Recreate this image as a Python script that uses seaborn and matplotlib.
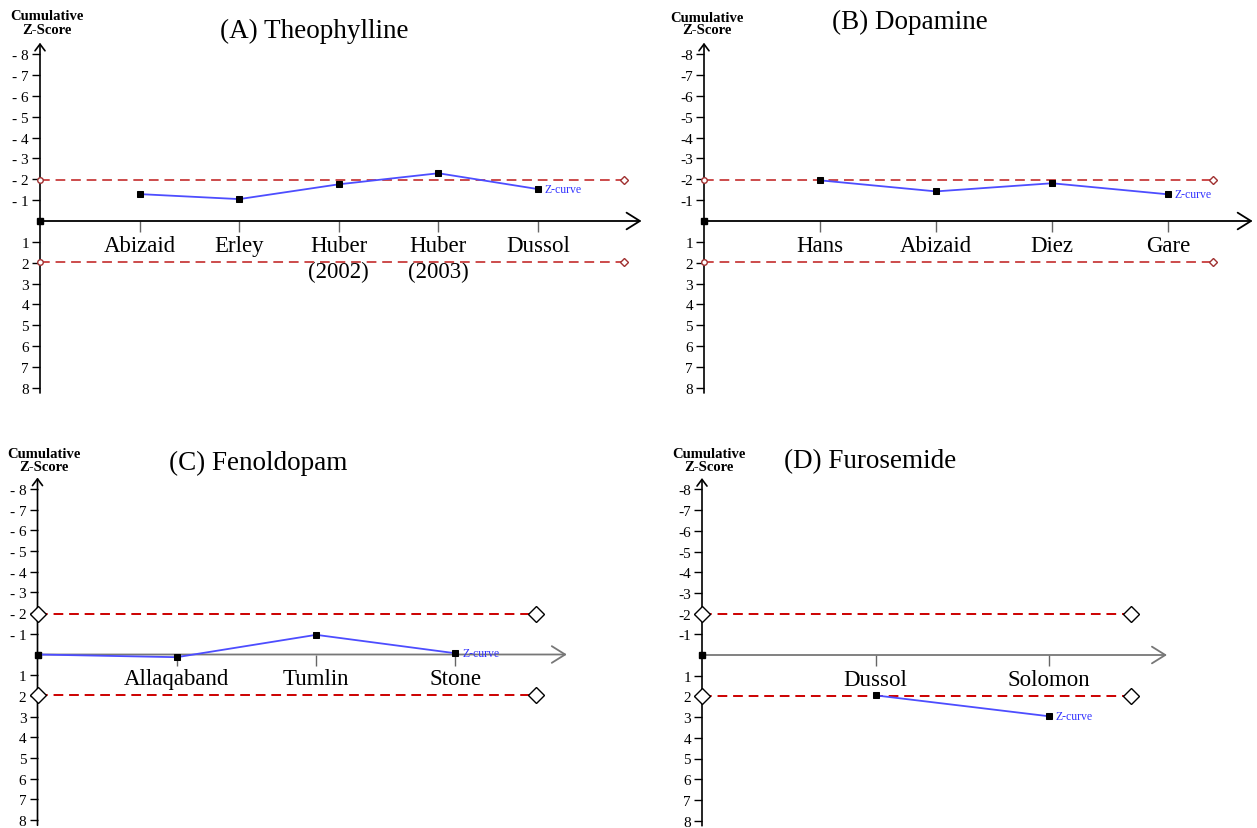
import matplotlib
matplotlib.use("Agg")
import matplotlib.pyplot as plt
import seaborn as sns

# Cumulative Z-scores (negative = upper half, labelled "- n")
theo_studies = ["Abizaid", "Erley", "Huber\n(2002)", "Huber\n(2003)", "Dussol"]
theo_z = [-1.29, -1.05, -1.76, -2.29, -1.53]

dopa_studies = ["Hans", "Abizaid", "Diez", "Gare"]
dopa_z = [-1.95, -1.42, -1.81, -1.28]

feno_studies = ["Allaqaband", "Tumlin", "Stone"]
feno_z = [0.13, -0.95, -0.06]

furo_studies = ["Dussol", "Solomon"]
furo_z = [1.95, 2.96]

boundary = 1.96
yticks = [-8, -7, -6, -5, -4, -3, -2, -1, 1, 2, 3, 4, 5, 6, 7, 8]

W, H = 1257, 829

sns.set_theme(style="white")
plt.rcParams["font.family"] = ["Liberation Serif", "DejaVu Serif"]
plt.rcParams["text.color"] = "black"

fig = plt.figure(figsize=(W / 100, H / 100), dpi=100)

# layout in pixels: axis origin x, px per study, zero line y, px per z unit
panels = [
    dict(title="(A) Theophylline", studies=theo_studies, z=theo_z, x0=40, ppx=99.6, zero=222, ppy=20.85,
         bend=5.86, aend=6.04, ylo=9.0, title_xy=(314, 31), cum_xy=(47, 17), sep=" ",
         red="#cc4b4b", axc="black", big=False, origin=False),
    dict(title="(B) Dopamine", studies=dopa_studies, z=dopa_z, x0=704, ppx=116, zero=222, ppy=20.85,
         bend=4.39, aend=4.73, ylo=9.0, title_xy=(910, 22), cum_xy=(707, 18), sep="",
         red="#cc4b4b", axc="black", big=False, origin=False),
    dict(title="(C) Fenoldopam", studies=feno_studies, z=feno_z, x0=37.5, ppx=139.3, zero=655.5, ppy=20.7,
         bend=3.58, aend=3.8, ylo=8.35, title_xy=(258, 463), cum_xy=(44, 455), sep=" ",
         red="#cc0000", axc="#777777", big=True, origin=True),
    dict(title="(D) Furosemide", studies=furo_studies, z=furo_z, x0=702, ppx=173.5, zero=656, ppy=20.7,
         bend=2.47, aend=2.68, ylo=8.35, title_xy=(870, 462), cum_xy=(709, 455), sep="",
         red="#cc0000", axc="#777777", big=True, origin=False),
]

for p in panels:
    xmax = p["aend"] + 0.6
    yhi = -9.0
    top_px = p["zero"] + yhi * p["ppy"]
    bot_px = p["zero"] + p["ylo"] * p["ppy"]
    ax = fig.add_axes([p["x0"] / W, 1 - bot_px / H, xmax * p["ppx"] / W, (bot_px - top_px) / H])
    ax.set_xlim(0, xmax)
    ax.set_ylim(p["ylo"], yhi)
    ax.patch.set_alpha(0)
    for s in ax.spines.values():
        s.set_visible(False)
    ax.spines["left"].set_position(("data", 0))
    ax.spines["bottom"].set_position(("data", 0))

    # axes with open arrow heads
    ax.annotate("", xy=(0, -8.55), xytext=(0, 8.25), annotation_clip=False,
                arrowprops=dict(arrowstyle="->,head_length=0.4,head_width=0.3", lw=1.2,
                                color="black", shrinkA=0, shrinkB=0))
    ax.annotate("", xy=(p["aend"], 0), xytext=(0, 0), annotation_clip=False,
                arrowprops=dict(arrowstyle="->,head_length=0.8,head_width=0.5", lw=1.3,
                                color=p["axc"], shrinkA=0, shrinkB=0))

    # ticks
    n = len(p["studies"])
    pos = list(range(1, n + 1))
    ax.set_xticks(pos, p["studies"])
    ax.tick_params(axis="x", bottom=True, direction="out", length=8, width=1, color="#666666",
                   labelsize=16.5, pad=2, labelcolor="black")
    for lab in ax.get_xticklabels():
        lab.set_linespacing(1.3)
    ax.set_yticks(yticks, [f"-{p['sep']}{-t}" if t < 0 else str(t) for t in yticks])
    ax.tick_params(axis="y", left=True, direction="out", length=6, width=1, color="black",
                   labelsize=11, pad=2, labelcolor="black")

    # boundaries
    for b in (-boundary, boundary):
        ax.plot([0, p["bend"]], [b, b], ls=(0, (5, 3)), lw=1.4, color=p["red"], clip_on=False)
        if p["big"]:
            ax.plot([0, p["bend"]], [b, b], ls="none", marker="D", ms=8, mfc="white",
                    mec="black", mew=1.0, clip_on=False, zorder=4)
        else:
            ax.plot([p["bend"]], [b], ls="none", marker="D", ms=4.5, mfc="white",
                    mec="#a03030", mew=1.0, clip_on=False, zorder=4)
            ax.plot([0], [b], ls="none", marker="o", ms=4, mfc="white",
                    mec="#a03030", mew=1.0, clip_on=False, zorder=4)

    # origin point
    ax.plot([0], [0], ls="none", marker="s", ms=5, color="black", clip_on=False, zorder=5)

    # Z-curve
    xs = ([0] if p["origin"] else []) + pos
    ys = ([0] if p["origin"] else []) + p["z"]
    sns.lineplot(x=xs, y=ys, ax=ax, color="#4d4dff", lw=1.3, marker="s", markersize=5,
                 markerfacecolor="black", markeredgecolor="black", sort=False, zorder=6)
    ax.annotate("Z-curve", xy=(pos[-1], p["z"][-1]), xytext=(5, 0), textcoords="offset points",
                va="center", ha="left", color="#3333ff", fontsize=8.5, annotation_clip=False)
    ax.set_xlabel("")
    ax.set_ylabel("")

    tx, ty = p["title_xy"]
    fig.text(tx / W, 1 - ty / H, p["title"], ha="center", va="center", fontsize=19.5, color="black")
    cx, cy = p["cum_xy"]
    fig.text(cx / W, 1 - cy / H, "Cumulative", ha="center", va="center", fontsize=10.5,
             color="black", fontweight="bold")
    fig.text(cx / W, 1 - (cy + 13) / H, "Z-Score", ha="center", va="center", fontsize=10.5,
             color="black", fontweight="bold")

fig.savefig("out.png", dpi=100)
